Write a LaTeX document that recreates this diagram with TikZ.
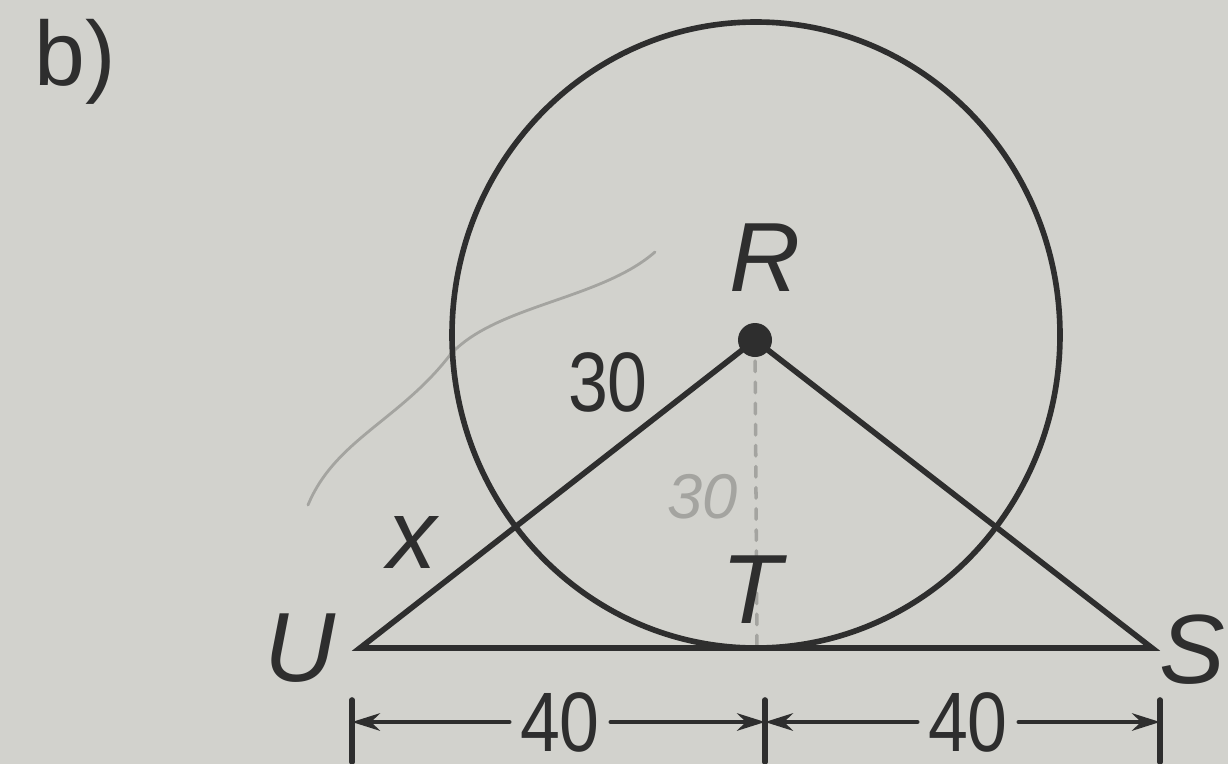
\documentclass[tikz,border=0pt]{standalone}
\usepackage{fontspec}
\setmainfont{Liberation Sans}
\usetikzlibrary{positioning,arrows.meta,calc}
\definecolor{scangray}{HTML}{D2D2CD}
\definecolor{inkgray}{HTML}{2E2E2E}
\definecolor{pencil}{HTML}{A4A4A0}

\begin{document}
\begin{tikzpicture}[x=0.1mm, y=-0.1mm, line cap=round,
    ink/.style={inkgray, line width=1.6pt},
    ptlabel/.style={inkgray, font=\fontsize{28}{30}\selectfont\itshape},
    numlabel/.style={inkgray, font=\fontsize{24}{26}\selectfont, xscale=0.85},
    dimarrow/.style={inkgray, line width=1.1pt, -{Stealth[length=8pt, width=5pt]}}]
    \fill[scangray] (0,0) rectangle (1228,764);
    \useasboundingbox (0,0) rectangle (1228,764);
    % points of the figure
    \coordinate (R) at (755,340);
    \coordinate (U) at (360,648);
    \coordinate (S) at (1152,648);
    \coordinate (T) at (757,648);
    % pencil marks
    \draw[pencil, dashed, line width=1pt] (R) -- (T);
    \node[pencil, font=\fontsize{18}{20}\selectfont\itshape] (pen30) at (703,497) {30};
    \draw[pencil, line width=0.8pt] (308,505) .. controls (335,440) and (400,420) .. (450,355)
      .. controls (495,305) and (600,300) .. (655,252);
    % circle and triangle
    \draw[ink] (756,335) ellipse (304 and 313);
    \draw[ink] (U) -- (R) -- (S) -- cycle;
    \fill[inkgray] (R) circle (17);
    % labels
    \node[inkgray, font=\fontsize{26}{28}\selectfont] (part) at (75,62) {b)};
    \node[ptlabel] (labR) at (765,258) {R};
    \node[ptlabel] (labU) at (300,648) {U};
    \node[ptlabel, inner sep=0pt, anchor=east] (labS) at (1226,650) {S};
    \node[ptlabel] (labT) at (752,590) {T};
    \node[ptlabel] (labx) at (412,542) {x};
    \node[numlabel] (lab30) at (608,382) {30};
    % dimension line under U--S
    \coordinate (tickL) at (352,700);
    \coordinate (tickM) at (765,700);
    \coordinate (tickR) at (1160,700);
    \foreach \t in {tickL,tickM,tickR}
      \draw[ink] (\t) -- ++(0,62);
    \node[numlabel] (dimA) at (560,722) {40};
    \node[numlabel] (dimB) at (968,722) {40};
    \draw[dimarrow] (dimA.west) -- (tickL |- dimA);
    \draw[dimarrow] (dimA.east) -- (tickM |- dimA);
    \draw[dimarrow] (dimB.west) -- (tickM |- dimB);
    \draw[dimarrow] (dimB.east) -- (tickR |- dimB);
\end{tikzpicture}
\end{document}
